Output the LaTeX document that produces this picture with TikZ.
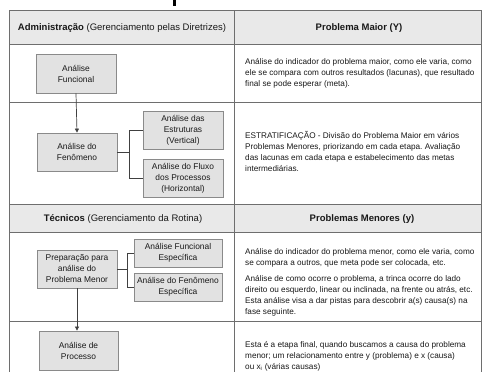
\documentclass[tikz,border=0pt]{standalone}
\usepackage{fontspec}
\setmainfont{Liberation Sans}
\usetikzlibrary{arrows.meta}
\frenchspacing
\definecolor{rulecol}{HTML}{6E6E6E}
\definecolor{headfill}{HTML}{E9E9E9}
\definecolor{boxfill}{HTML}{E2E2E2}
\definecolor{boxline}{HTML}{8A8A8A}
\begin{document}
\begin{tikzpicture}[x=1pt,y=-1pt,
  gridline/.style={draw=rulecol,line width=0.9pt},
  stepbox/.style={draw=boxline,fill=boxfill,line width=0.8pt,align=center,inner sep=1pt,
    font=\fontsize{8.4}{11}\selectfont,text=black!90},
  % descriptions are placed by the baseline of their last line
  desc/.style={anchor=base west,align=left,inner sep=0pt,
    font=\fontsize{8.2}{11}\selectfont,text=black!90},
  head/.style={anchor=base,inner sep=0pt,font=\fontsize{9.5}{11}\selectfont,text=black!90},
  link/.style={draw=black!75,line width=0.7pt},
  arr/.style={link,-{Triangle[length=4pt,width=4pt]}}
]
\useasboundingbox (0,0) rectangle (482,372);
\fill[white] (0,0) rectangle (482,372);
% header bands
\fill[headfill] (9,10) rectangle (481,44);
\fill[headfill] (9,204) rectangle (481,232);
\fill[black] (173,0) rectangle (176,6);
% table rules
\draw[gridline] (9,372) -- (9,10) -- (481,10) -- (481,372);
\draw[gridline] (234,10) -- (234,372);
\foreach \yy in {44,102,204,232,321} \draw[gridline] (9,\yy) -- (481,\yy);

% headings
\node[head] (hadm) at (122,30.5) {\textbf{Administração} (Gerenciamento pelas Diretrizes)};
\node[head] (hmaior) at (359,30.5) {\textbf{Problema Maior (Y)}};
\node[head] (htec) at (123,221.5) {\textbf{Técnicos} (Gerenciamento da Rotina)};
\node[head] (hmenor) at (362,221.5) {\textbf{Problemas Menores (y)}};

% step boxes
\node[stepbox,minimum width=80pt,minimum height=39pt] (af) at (76,73.5) {Análise\\Funcional};
\node[stepbox,minimum width=80pt,minimum height=38pt] (afen) at (77,152) {Análise do\\Fenômeno};
\node[stepbox,minimum width=80pt,minimum height=38pt] (ae) at (183,130) {Análise das\\Estruturas\\(Vertical)};
\node[stepbox,minimum width=80pt,minimum height=38pt] (afl) at (183,178) {Análise do Fluxo\\dos Processos\\(Horizontal)};
\node[stepbox,minimum width=80pt,minimum height=38pt] (prep) at (77,269) {Preparação para\\análise do\\Problema Menor};
\node[stepbox,minimum width=88pt,minimum height=28pt] (afe) at (178,253) {Análise Funcional\\Específica};
\node[stepbox,minimum width=88pt,minimum height=28pt] (afene) at (178,287) {Análise do Fenômeno\\Específica};
\node[stepbox,minimum width=79pt,minimum height=39pt] (ap) at (78.5,350.5) {Análise de\\Processo};

% connectors
\draw[arr] (af.south) -- (afen.north);
\draw[arr] (prep.south) -- (prep.south |- ap.north);
\coordinate (j1) at (129,0);
\draw[link] (afen.east) -- (afen.east -| j1);
\draw[link] (ae.west) -- (ae.west -| j1) -- (afl.west -| j1) -- (afl.west);
\coordinate (j2) at (127,0);
\draw[link] (prep.east) -- (prep.east -| j2);
\draw[link] (afe.west) -- (afe.west -| j2) -- (afene.west -| j2) -- (afene.west);

% descriptions
\node[desc] (d1) at (245,86) {Análise do indicador do problema maior, como ele varia, como\\ele se compara com outros resultados (lacunas), que resultado\\final se pode esperar (meta).};
\node[desc] (d2) at (245,171) {ESTRATIFICAÇÃO - Divisão do Problema Maior em vários\\Problemas Menores, priorizando em cada etapa. Avaliação\\das lacunas em cada etapa e estabelecimento das metas\\intermediárias.};
\node[desc] (d3) at (245,265) {Análise do indicador do problema menor, como ele varia, como\\se compara a outros, que meta pode ser colocada, etc.};
\node[desc] (d4) at (245,314) {Análise de como ocorre o problema, a trinca ocorre do lado\\direito ou esquerdo, linear ou inclinada, na frente ou atrás, etc.\\Esta análise visa a dar pistas para descobrir a(s) causa(s) na\\fase seguinte.};
\node[desc] (d5) at (245,369) {Esta é a etapa final, quando buscamos a causa do problema\\menor; um relacionamento entre y (problema) e x (causa)\\ou x\textsubscript{i} (várias causas)};
\end{tikzpicture}
\end{document}
